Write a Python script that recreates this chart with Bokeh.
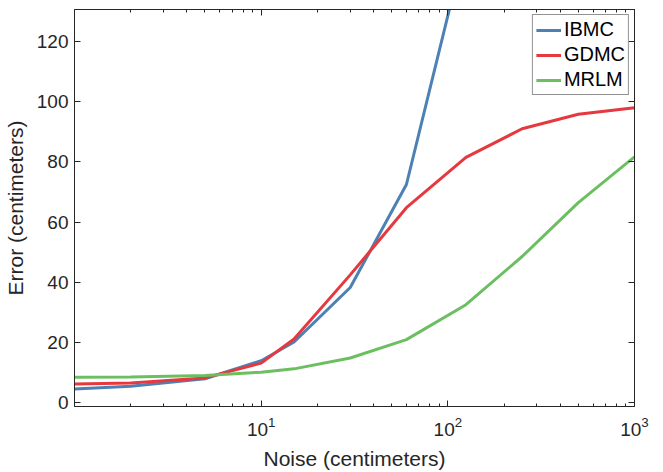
from bokeh.plotting import figure
from bokeh.models import (LinearAxis, FixedTicker, Range1d, Legend,
                          LegendItem, LogTickFormatter)
from bokeh.embed import file_html
from bokeh.resources import INLINE

noise = [1, 2, 5, 10, 15, 30, 60, 125, 250, 500, 1000]
ibmc = [4.6, 5.5, 8.0, 14.0, 20.2, 38.3, 72.5, 153.0, 230.0, 300.0, 380.0]
gdmc = [6.3, 6.6, 8.3, 13.2, 21.2, 42.5, 64.8, 81.5, 91.0, 95.8, 98.0]
mrlm = [8.5, 8.6, 9.1, 10.2, 11.3, 14.9, 21.0, 32.6, 48.6, 66.5, 81.7]
series_names = ["IBMC", "GDMC", "MRLM"]
colors = ["#4d80b3", "#e6393f", "#6cbf60"]
x_major = [10, 100, 1000]
x_minor = [2, 3, 4, 5, 6, 7, 8, 9, 20, 30, 40, 50, 60, 70, 80, 90,
           200, 300, 400, 500, 600, 700, 800, 900]
y_major = [0, 20, 40, 60, 80, 100, 120]

TXT = "#262626"
FONT = "Liberation Sans"

p = figure(width=663, height=472, x_axis_type="log",
           x_range=Range1d(1, 1000), y_range=Range1d(-1.2, 130.6),
           output_backend="svg", toolbar_location=None,
           min_border_left=73, min_border_right=29, min_border_top=9,
           min_border_bottom=65)
p.background_fill_color = "white"
p.border_fill_color = "white"
p.outline_line_color = TXT
p.outline_line_width = 1
p.xgrid.visible = False
p.ygrid.visible = False

renderers = []
for name, ys, c in zip(series_names, [ibmc, gdmc, mrlm], colors):
    r = p.line(noise, ys, line_color=c, line_width=3)
    renderers.append((name, r))

def style(ax, labels=True):
    ax.axis_line_color = TXT
    ax.major_tick_line_color = TXT
    ax.minor_tick_line_color = TXT
    ax.major_tick_in = 6
    ax.major_tick_out = 0
    ax.minor_tick_in = 3
    ax.minor_tick_out = 0
    ax.major_label_text_font = FONT
    ax.major_label_text_color = TXT if labels else None
    ax.major_label_text_font_size = "19px" if labels else "1px"
    ax.axis_label_text_font = FONT
    ax.axis_label_text_color = TXT
    ax.axis_label_text_font_size = "21px"
    ax.axis_label_text_font_style = "normal"
    if not labels:
        ax.major_label_standoff = 0

p.xaxis.ticker = FixedTicker(ticks=x_major, minor_ticks=x_minor)
p.xaxis.formatter = LogTickFormatter()
p.xaxis.axis_label = "Noise (centimeters)"
p.yaxis.ticker = FixedTicker(ticks=y_major, minor_ticks=[])
p.yaxis.axis_label = "Error (centimeters)"
style(p.xaxis[0])
style(p.yaxis[0])
p.xaxis.major_label_standoff = 10
p.xaxis.axis_label_standoff = 8
p.yaxis.major_label_standoff = 6
p.yaxis.axis_label_standoff = 7

top = LinearAxis(ticker=FixedTicker(ticks=x_major, minor_ticks=x_minor))
style(top, labels=False)
p.add_layout(top, "above")
right = LinearAxis(ticker=FixedTicker(ticks=y_major, minor_ticks=[]))
style(right, labels=False)
p.add_layout(right, "right")

legend = Legend(items=[LegendItem(label=n, renderers=[r]) for n, r in renderers],
                location="top_right", margin=5)
legend.label_text_font = FONT
legend.label_text_font_size = "20px"
legend.label_text_color = "black"
legend.glyph_width = 25
legend.glyph_height = 22
legend.label_height = 22
legend.label_standoff = 3
legend.padding = 3
legend.spacing = 2
legend.border_line_color = TXT
legend.border_line_width = 1
legend.background_fill_alpha = 1
p.add_layout(legend)

open("out.html", "w").write(file_html(p, INLINE))
